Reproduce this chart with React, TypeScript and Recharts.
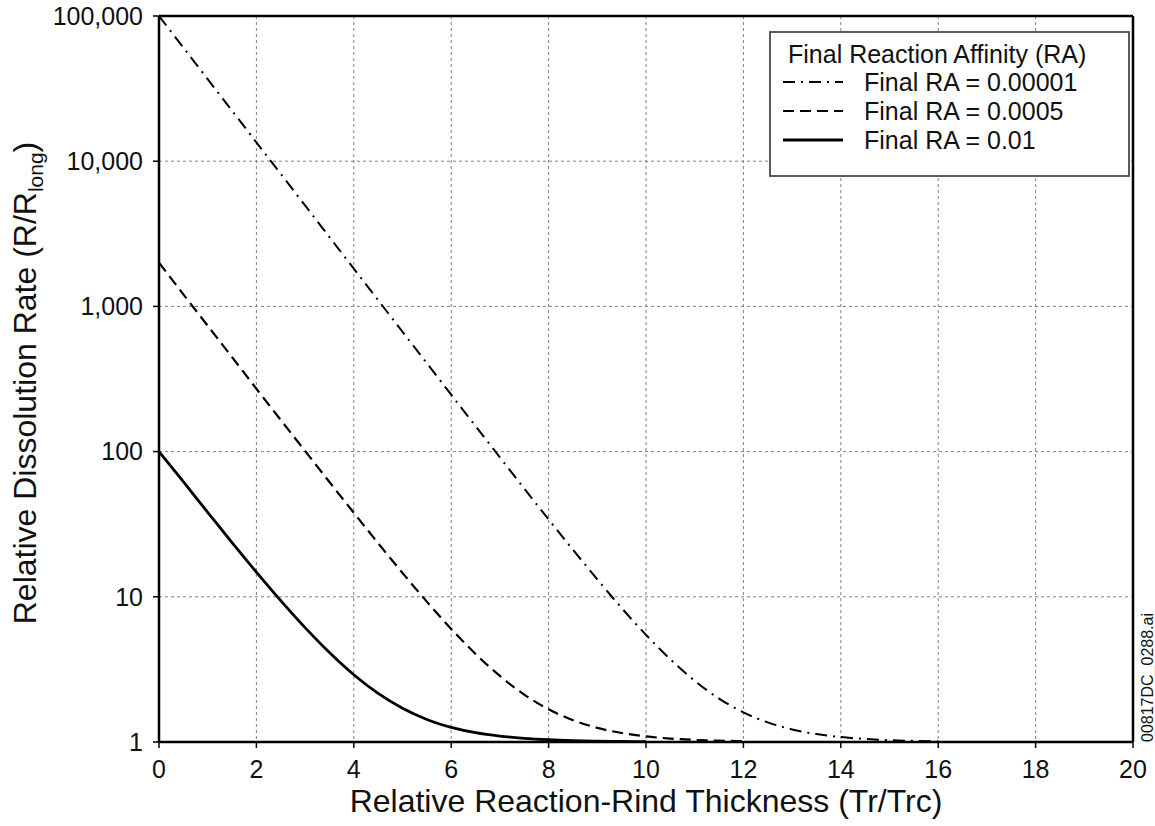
import { LineChart, Line, XAxis, YAxis, CartesianGrid, ReferenceLine } from 'recharts';

// x positions (Tr/Trc), every 0.5
const THICKNESS = Array.from({ length: 41 }, (_, i) => i * 0.5);

// R/Rlong, one value per 0.5 step; each series stops where it meets 1
const RA_00001 = [
  100000, 60600, 36700, 22260, 13490, 8175, 4955, 3003, 1820, 1103, 669, 406, 246.5, 150, 91.2, 55.6,
  34.1, 21.1, 13.2, 8.37, 5.47, 3.71, 2.64, 1.99, 1.6, 1.365, 1.221, 1.134, 1.081, 1.049, 1.03, 1.018, 1.011,
];
const RA_0005 = [
  2000, 1211, 736, 447, 271, 165, 101, 61.7, 37.9, 23.4, 14.6, 9.26, 6.01, 4.04, 2.85, 2.12,
  1.68, 1.414, 1.251, 1.153, 1.093, 1.056, 1.034, 1.021, 1.013,
];
const RA_001 = [
  100, 62, 38.2, 23.6, 14.8, 9.41, 6.13, 4.13, 2.905, 2.16, 1.708, 1.43, 1.263, 1.16, 1.098, 1.06,
  1.036, 1.022, 1.013, 1.008, 1.005,
];

const X_TICKS = [0, 2, 4, 6, 8, 10, 12, 14, 16, 18, 20];
const Y_TICKS = [1, 10, 100, 1000, 10000, 100000];

const SERIES = [
  { key: 'ra00001', label: 'Final RA = 0.00001', dash: '12 6 2 6', width: 2 },
  { key: 'ra0005', label: 'Final RA = 0.0005', dash: '11 6', width: 2.2 },
  { key: 'ra001', label: 'Final RA = 0.01', dash: undefined, width: 2.8 },
];

const FONT = '"Liberation Sans", Arial, Helvetica, sans-serif';

const data = THICKNESS.map((x, i) => ({
  x,
  ra00001: RA_00001[i],
  ra0005: RA_0005[i],
  ra001: RA_001[i],
}));

function LegendBox() {
  return (
    <svg width={362} height={148} style={{ position: 'absolute', left: 769, top: 31 }}>
      <rect x={1} y={1} width={359} height={144} fill="#fff" stroke="#333" strokeWidth={1.6} />
      <text x={19} y={32} fontSize={25} fontFamily={FONT} fill="#111">
        Final Reaction Affinity (RA)
      </text>
      {SERIES.map((s, i) => {
        const cy = 51 + i * 29;
        return (
          <g key={s.key}>
            <line x1={14} x2={74} y1={cy} y2={cy} stroke="#000" strokeWidth={s.width} strokeDasharray={s.dash} />
            <text x={95} y={cy + 9} fontSize={25} fontFamily={FONT} fill="#111">
              {s.label}
            </text>
          </g>
        );
      })}
    </svg>
  );
}

export default function App() {
  return (
    <div style={{ position: 'absolute', left: 0, top: 0, width: 1155, height: 826, background: '#fff' }}>
      <LineChart width={1155} height={826} data={data} margin={{ top: 16, right: 22, bottom: 0, left: 0 }}>
        <CartesianGrid stroke="#808080" strokeDasharray="3 3" strokeWidth={1} />
        <XAxis
          dataKey="x"
          type="number"
          domain={[0, 20]}
          ticks={X_TICKS}
          height={84}
          tickSize={6}
          tickMargin={12}
          axisLine={{ stroke: '#000', strokeWidth: 2.5 }}
          tickLine={{ stroke: '#000', strokeWidth: 1.5 }}
          tick={{ fill: '#111', fontSize: 25, fontFamily: FONT }}
          label={{
            content: () => (
              <text x={646} y={812} textAnchor="middle" fontSize={32} fontFamily={FONT} fill="#111">
                Relative Reaction-Rind Thickness (Tr/Trc)
              </text>
            ),
          }}
        />
        <YAxis
          type="number"
          scale="log"
          domain={[1, 100000]}
          allowDataOverflow
          ticks={Y_TICKS}
          width={159}
          tickSize={6}
          tickMargin={10}
          tickFormatter={(v: number) => v.toLocaleString('en-US')}
          axisLine={{ stroke: '#000', strokeWidth: 2.5 }}
          tickLine={{ stroke: '#000', strokeWidth: 1.5 }}
          tick={{ fill: '#111', fontSize: 25, fontFamily: FONT }}
          label={{
            content: () => (
              <text
                x={36}
                y={383}
                transform="rotate(-90, 36, 383)"
                textAnchor="middle"
                fontSize={32}
                fontFamily={FONT}
                fill="#111"
              >
                Relative Dissolution Rate (R/R
                <tspan fontSize={21} dy={7}>long</tspan>
                <tspan dy={-7}>)</tspan>
              </text>
            ),
          }}
        />
        <ReferenceLine y={100000} stroke="#000" strokeWidth={2.5} />
        <ReferenceLine x={20} stroke="#000" strokeWidth={2.5} />
        {SERIES.map((s) => (
          <Line
            key={s.key}
            dataKey={s.key}
            type="monotone"
            stroke="#000"
            strokeWidth={s.width}
            strokeDasharray={s.dash}
            dot={false}
            activeDot={false}
            connectNulls={false}
            isAnimationActive={false}
          />
        ))}
      </LineChart>
      <LegendBox />
      <svg width={20} height={160} style={{ position: 'absolute', left: 1137, top: 600 }}>
        <text
          x={16}
          y={142}
          transform="rotate(-90, 16, 142)"
          fontSize={16}
          fontFamily={FONT}
          fill="#111"
        >
          00817DC_0288.ai
        </text>
      </svg>
    </div>
  );
}
